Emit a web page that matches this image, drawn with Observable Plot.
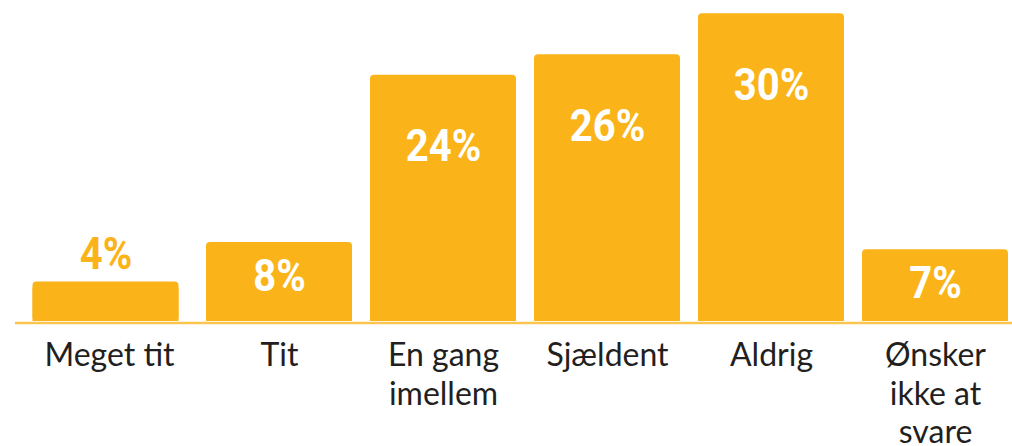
<!DOCTYPE html>
<html>
<head>
<meta charset="utf-8">
<script src="https://cdn.jsdelivr.net/npm/d3@7"></script>
<script src="https://cdn.jsdelivr.net/npm/@observablehq/plot@0.6"></script>
<style>
  html, body { margin: 0; padding: 0; background: #fff; }
  #chart svg { display: block; }
</style>
</head>
<body>
<div id="chart"></div>
<script>
const categories = ["Meget tit", "Tit", "En gang imellem", "Sjældent", "Aldrig", "Ønsker ikke at svare"];
const values = [3.85, 7.7, 24, 26, 30, 7];
const valueLabels = ["4%", "8%", "24%", "26%", "30%", "7%"];
const tickLabels = ["Meget tit", "Tit", "En gang\nimellem", "Sjældent", "Aldrig", "Ønsker\nikke at\nsvare"];

const data = categories.map((c, i) => ({category: c, value: values[i], label: valueLabels[i], tick: tickLabels[i]}));
const first = data.filter((d, i) => i === 0);
const rest = data.filter((d, i) => i > 0);

const barColor = "#fab419";
const labelFont = "Roboto, sans-serif";
const shiftFirst = -9.5;

const labelStyle = {x: "category", y: "value", text: "label", fontSize: 43.5, fontWeight: 700, fontFamily: labelFont, lineAnchor: "bottom"};
const tickStyle = {x: "category", frameAnchor: "bottom", text: "tick", lineAnchor: "top", fontSize: 32, lineHeight: 1.2, fill: "#231f20", dy: 17.5};

function bars(arr, dx) {
  return [
    Plot.barY(arr, {x: "category", y: "value", fill: barColor, rx: 4, dx}),
    Plot.barY(arr, {x: "category", y: "value", fill: barColor, insetTop: 6, dx})
  ];
}
function labels(arr, dx) {
  return [
    Plot.text(arr.filter(d => d.value >= 15), {...labelStyle, fill: "white", dy: 86, dx}),
    Plot.text(arr.filter(d => d.value >= 5 && d.value < 15), {...labelStyle, fill: "white", dy: 48, dx}),
    Plot.text(arr.filter(d => d.value < 5), {...labelStyle, fill: barColor, dy: -13, dx})
  ];
}

const chart = Plot.plot({
  width: 1012,
  height: 446,
  marginLeft: 42,
  marginRight: 4,
  marginTop: 13.3,
  marginBottom: 125,
  style: {fontFamily: "Lato, sans-serif", background: "#fff"},
  x: {domain: categories, paddingInner: 0.1098, paddingOuter: 0, axis: null},
  y: {domain: [0, 30], axis: null},
  marks: [
    ...bars(first, shiftFirst),
    ...bars(rest, 0),
    Plot.ruleY([0], {stroke: "#f9c54f", strokeWidth: 2.5, insetLeft: -27, insetRight: -4, dy: 1.5}),
    ...labels(first, shiftFirst),
    ...labels(rest, 0),
    Plot.text(first, {...tickStyle, dx: -6}),
    Plot.text(rest, {...tickStyle, dx: 0})
  ]
});

// condense the value labels horizontally
chart.querySelectorAll('g[font-family^="Roboto"] text').forEach(el => {
  const t = el.getAttribute("transform");
  if (t && t.includes("translate")) {
    el.setAttribute("transform", t + " scale(0.92,1)");
  } else {
    const xv = +(el.getAttribute("x") || 0);
    el.setAttribute("transform", `translate(${xv},0) scale(0.92,1) translate(${-xv},0)`);
  }
});

document.getElementById("chart").appendChild(chart);
</script>
</body>
</html>
